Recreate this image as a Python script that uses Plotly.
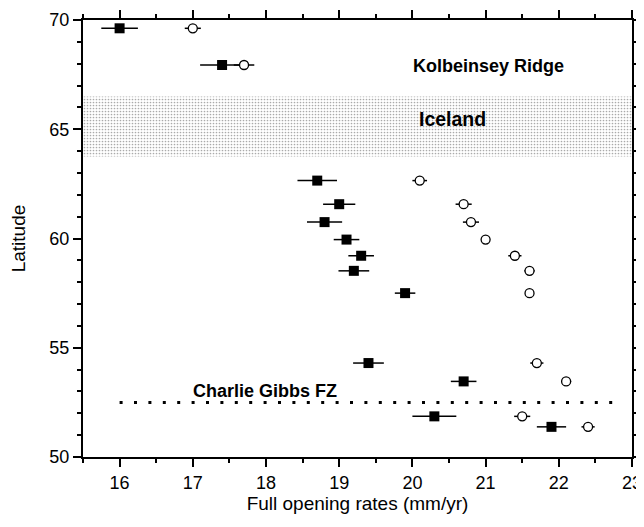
import plotly.graph_objects as go

# Filled squares (series 1)
sq_rate = [16.0, 17.4, 18.7, 19.0, 18.8, 19.1, 19.3, 19.2, 19.9, 19.4, 20.7, 20.3, 21.9]
sq_lat = [69.62, 67.94, 62.65, 61.57, 60.75, 59.95, 59.21, 58.52, 57.50, 54.30, 53.46, 51.86, 51.38]
sq_err = [0.25, 0.3, 0.27, 0.22, 0.24, 0.175, 0.175, 0.21, 0.14, 0.21, 0.175, 0.3, 0.2]

# Open circles (series 2)
ci_rate = [17.0, 17.7, 20.1, 20.7, 20.8, 21.0, 21.4, 21.6, 21.6, 21.7, 22.1, 21.5, 22.4]
ci_lat = [69.62, 67.94, 62.65, 61.57, 60.75, 59.95, 59.21, 58.52, 57.50, 54.30, 53.46, 51.86, 51.38]
ci_err = [0.11, 0.14, 0.1, 0.11, 0.11, 0.05, 0.09, 0.07, 0.0, 0.09, 0.07, 0.11, 0.09]

# Iceland band (latitude range) and Charlie Gibbs FZ line
iceland_lat = [63.75, 66.5]
fz_lat = 52.5
fz_rate = [16.0, 22.85]

x_range = [15.5, 23]
y_range = [50, 70]

FONT = "Liberation Sans, Arial, Helvetica, sans-serif"

fig = go.Figure()

fig.add_trace(go.Scatter(
    x=[x_range[0], x_range[1], x_range[1], x_range[0], x_range[0]],
    y=[iceland_lat[0], iceland_lat[0], iceland_lat[1], iceland_lat[1], iceland_lat[0]],
    mode="lines", fill="toself", line=dict(width=0),
    fillcolor="rgba(0,0,0,0)",
    fillpattern=dict(shape=".", fgcolor="#555555", bgcolor="white", size=3, solidity=0.25),
    hoverinfo="skip", showlegend=False,
))

fig.add_trace(go.Scatter(
    x=fz_rate, y=[fz_lat, fz_lat], mode="lines",
    line=dict(color="black", width=3, dash="3px,11.4px"),
    showlegend=False,
))

fig.add_trace(go.Scatter(
    x=sq_rate, y=sq_lat, mode="markers",
    marker=dict(symbol="square", size=10, color="black"),
    error_x=dict(type="data", array=sq_err, color="black", thickness=1.5, width=0),
    showlegend=False,
))

fig.add_trace(go.Scatter(
    x=ci_rate, y=ci_lat, mode="markers",
    marker=dict(symbol="circle", size=9, color="white", line=dict(color="black", width=1.3)),
    error_x=dict(type="data", array=ci_err, color="black", thickness=1.5, width=0),
    showlegend=False,
))

fig.add_annotation(x=21.04, y=67.91, text="<b>Kolbeinsey Ridge</b>", showarrow=False,
                   font=dict(family=FONT, size=18, color="black"))
fig.add_annotation(x=20.55, y=65.49, text="<b>Iceland</b>", showarrow=False,
                   font=dict(family=FONT, size=19.5, color="black"))
fig.add_annotation(x=17.99, y=53.04, text="<b>Charlie Gibbs FZ</b>", showarrow=False,
                   font=dict(family=FONT, size=18, color="black"))

axis_common = dict(
    showline=True, linecolor="black", linewidth=2, mirror="allticks",
    ticks="outside", ticklen=8, tickwidth=1.5, tickcolor="black",
    showgrid=False, zeroline=False, automargin=False,
    tickfont=dict(family=FONT, size=18, color="black"),
)

fig.update_xaxes(
    range=x_range, dtick=1, tick0=16,
    minor=dict(dtick=0.5, ticks="outside", ticklen=4, tickwidth=1.5, tickcolor="black", showgrid=False),
    title=dict(text="Full opening rates (mm/yr)", font=dict(family=FONT, size=19, color="black"), standoff=2),
    **axis_common,
)
fig.update_yaxes(
    range=y_range, dtick=5, tick0=50,
    minor=dict(dtick=1, ticks="outside", ticklen=4, tickwidth=1.5, tickcolor="black", showgrid=False),
    title=dict(text="Latitude", font=dict(family=FONT, size=19, color="black"), standoff=20),
    **axis_common,
)

# page body has an 8px margin, so the figure is sized/offset to put the plot area where the reference has it
fig.update_layout(
    width=636, height=519,
    margin=dict(l=75, r=12, t=12, b=70),
    plot_bgcolor="white", paper_bgcolor="white",
    showlegend=False,
)

fig.write_html("out.html")
